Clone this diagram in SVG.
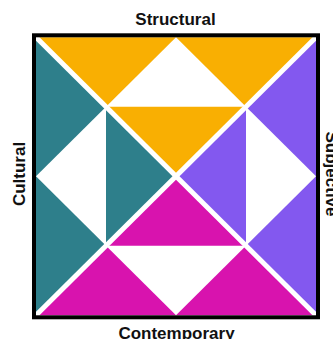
<svg xmlns="http://www.w3.org/2000/svg" width="333" height="339" viewBox="0 0 333 339">
<style>
.y{fill:#F9AF02}.t{fill:#2E7F8B}.p{fill:#8358EF}.m{fill:#D813AE}
.lbl{font-family:"Liberation Sans",Arial,sans-serif;font-weight:bold;font-size:17px;fill:#111;text-anchor:middle}
.diag{stroke:#fff;stroke-width:5;fill:none}
</style>
<rect x="0" y="0" width="333" height="339" fill="#fff"/>
<g id="structural">
<polygon class="y" points="36,37.3 176,37.3 106,106.8"/>
<polygon class="y" points="176,37.3 316,37.3 246,106.8"/>
<polygon class="y" points="106,106.8 246,106.8 176,176.3"/>
</g>
<g id="cultural">
<polygon class="t" points="36,37.3 36,176.3 106,106.8"/>
<polygon class="t" points="36,176.3 36,315.3 106,245.8"/>
<polygon class="t" points="106,106.8 106,245.8 176,176.3"/>
</g>
<g id="subjective">
<polygon class="p" points="316,37.3 316,176.3 246,106.8"/>
<polygon class="p" points="316,176.3 316,315.3 246,245.8"/>
<polygon class="p" points="246,106.8 246,245.8 176,176.3"/>
</g>
<g id="contemporary">
<polygon class="m" points="36,315.3 176,315.3 106,245.8"/>
<polygon class="m" points="176,315.3 316,315.3 246,245.8"/>
<polygon class="m" points="106,245.8 246,245.8 176,176.3"/>
</g>
<g id="connectors">
<line class="diag" x1="36" y1="37.3" x2="316" y2="315.3"/>
<line class="diag" x1="316" y1="37.3" x2="36" y2="315.3"/>
</g>
<rect id="frame" x="34" y="35.3" width="284" height="282" fill="none" stroke="#000" stroke-width="4"/>
<g id="labels">
<text class="lbl" x="175.5" y="25">Structural</text>
<text class="lbl" x="176.5" y="339">Contemporary</text>
<text class="lbl" transform="translate(25,174) rotate(-90)">Cultural</text>
<text class="lbl" transform="translate(325.5,174) rotate(90)">Subjective</text>
</g>
</svg>
